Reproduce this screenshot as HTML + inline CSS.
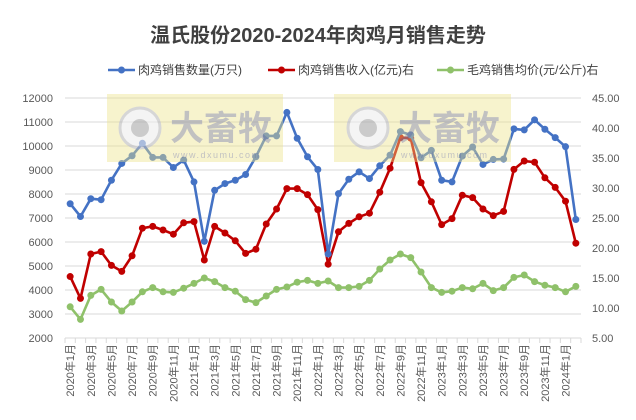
<!DOCTYPE html>
<html><head><meta charset="utf-8"><style>
body{margin:0;background:#fff;}
svg text{font-family:"Liberation Sans","Noto Sans CJK SC",sans-serif;}
</style></head><body>
<svg id="c" width="636" height="415" xmlns="http://www.w3.org/2000/svg">
<rect width="636" height="415" fill="#fff"/>
<text x="318" y="42" text-anchor="middle" font-size="20" font-weight="bold" fill="#404040">温氏股份2020-2024年肉鸡月销售走势</text>
<g font-size="12" fill="#404040">
<line x1="108" y1="70" x2="135" y2="70" stroke="#4472C4" stroke-width="2.5"/><circle cx="121.5" cy="70" r="3.5" fill="#4472C4"/>
<text x="138" y="74">肉鸡销售数量(万只)</text>
<line x1="268" y1="70" x2="295" y2="70" stroke="#C00000" stroke-width="2.5"/><circle cx="281.5" cy="70" r="3.5" fill="#C00000"/>
<text x="298" y="74">肉鸡销售收入(亿元)右</text>
<line x1="437" y1="70" x2="464" y2="70" stroke="#8FC16A" stroke-width="2.5"/><circle cx="450.5" cy="70" r="3.5" fill="#8FC16A"/>
<text x="467" y="74">毛鸡销售均价(元/公斤)右</text>
</g>
<g id="grid"></g>
<g id="series"></g>
<g opacity="0.6">
<rect x="107" y="94" width="176" height="68" fill="#EEE38A" opacity="0.7"/>
<circle cx="140" cy="128" r="20" fill="#eee" stroke="#bbb" stroke-width="3"/><circle cx="140" cy="128" r="9" fill="#aaa"/>
<text x="170" y="140" font-size="34" font-weight="bold" fill="#999">大畜牧</text>
<text x="173" y="158" font-size="9" fill="#999" letter-spacing="1.5">www.dxumu.com</text>
<rect x="334" y="94" width="177" height="68" fill="#EEE38A" opacity="0.7"/>
<circle cx="368" cy="128" r="20" fill="#eee" stroke="#bbb" stroke-width="3"/><circle cx="368" cy="128" r="9" fill="#aaa"/>
<text x="398" y="140" font-size="34" font-weight="bold" fill="#999">大畜牧</text>
<text x="401" y="158" font-size="9" fill="#999" letter-spacing="1.5">www.dxumu.com</text>
</g>
</svg>
<script>
var NS="http://www.w3.org/2000/svg";
function el(p,t,a,txt){var e=document.createElementNS(NS,t);for(var k in a)e.setAttribute(k,a[k]);if(txt!=null)e.textContent=txt;p.appendChild(e);return e;}
var L=65,R=581,T=98,B=338,n=50,w=(R-L)/n;
var g=document.getElementById('grid'),s=document.getElementById('series');
for(var i=0;i<=10;i++){var y=T+i*24;
 if(i<10)el(g,'line',{x1:L,x2:R,y1:y,y2:y,stroke:'#d9d9d9','stroke-width':1});
 el(g,'text',{x:53,y:y+4,'text-anchor':'end','font-size':11,fill:'#595959'},String(12000-i*1000));}
for(var i=0;i<=8;i++){var y=T+i*30;el(g,'text',{x:592,y:y+4,'font-size':11,fill:'#595959'},(45-i*5).toFixed(2));}
el(g,'line',{x1:L,x2:R,y1:B,y2:B,stroke:'#d9d9d9'});
for(var i=0;i<=n;i++){var x=L+i*w;el(g,'line',{x1:x,x2:x,y1:B,y2:B+5,stroke:'#d9d9d9'});}
for(var i=0;i<n;i+=2){var yr=2020+Math.floor(i/12),m=i%12+1;var x=L+(i+0.5)*w+4;
 el(g,'text',{transform:'translate('+x+',344) rotate(-90)','text-anchor':'end','font-size':11,fill:'#595959'},yr+'年'+m+'月');}
var blue=[7594,7063,7804,7762,8573,9273,9594,10112,9524,9524,9105,9413,8503,6028,8154,8434,8573,8811,9552,10420,10420,11399,10322,9552,9021,5500,8014,8615,8923,8643,9175,9622,10601,10462,9510,9818,8573,8503,9580,9958,9231,9441,9455,10713,10671,11091,10699,10350,9972,6937];
var red=[15.24,11.6,19.0,19.4,17.1,16.1,18.7,23.3,23.6,23.0,22.3,24.2,24.4,18.0,23.6,22.5,21.2,19.1,19.8,24.0,26.5,29.9,29.9,28.9,26.4,17.3,22.7,24.1,25.2,25.8,29.3,33.3,38.4,38.3,30.9,27.7,23.9,24.9,28.8,28.4,26.5,25.4,26.1,33.1,34.5,34.3,31.7,30.1,27.8,20.8];
var green=[10.2,8.1,12.1,13.1,11.0,9.5,11.0,12.7,13.4,12.7,12.6,13.3,14.1,15.0,14.4,13.4,12.8,11.4,10.9,12.0,13.1,13.5,14.3,14.6,14.1,14.5,13.4,13.4,13.6,14.6,16.5,18.0,19.0,18.4,16.0,13.4,12.6,12.8,13.4,13.2,14.1,12.9,13.4,15.1,15.5,14.4,13.8,13.4,12.7,13.6];
function draw(d,f,c){var pts=d.map(function(v,i){return [L+(i+0.5)*w,f(v)];});
 el(s,'polyline',{points:pts.map(function(p){return p[0].toFixed(1)+','+p[1].toFixed(1)}).join(' '),fill:'none',stroke:c,'stroke-width':2.6,'stroke-linejoin':'round'});
 pts.forEach(function(p){el(s,'circle',{cx:p[0],cy:p[1],r:3.5,fill:c});});}
draw(green,function(v){return T+(45-v)*6;},'#8FC16A');
draw(red,function(v){return T+(45-v)*6;},'#C00000');
draw(blue,function(v){return T+(12000-v)*0.024;},'#4472C4');
</script>
</body></html>
